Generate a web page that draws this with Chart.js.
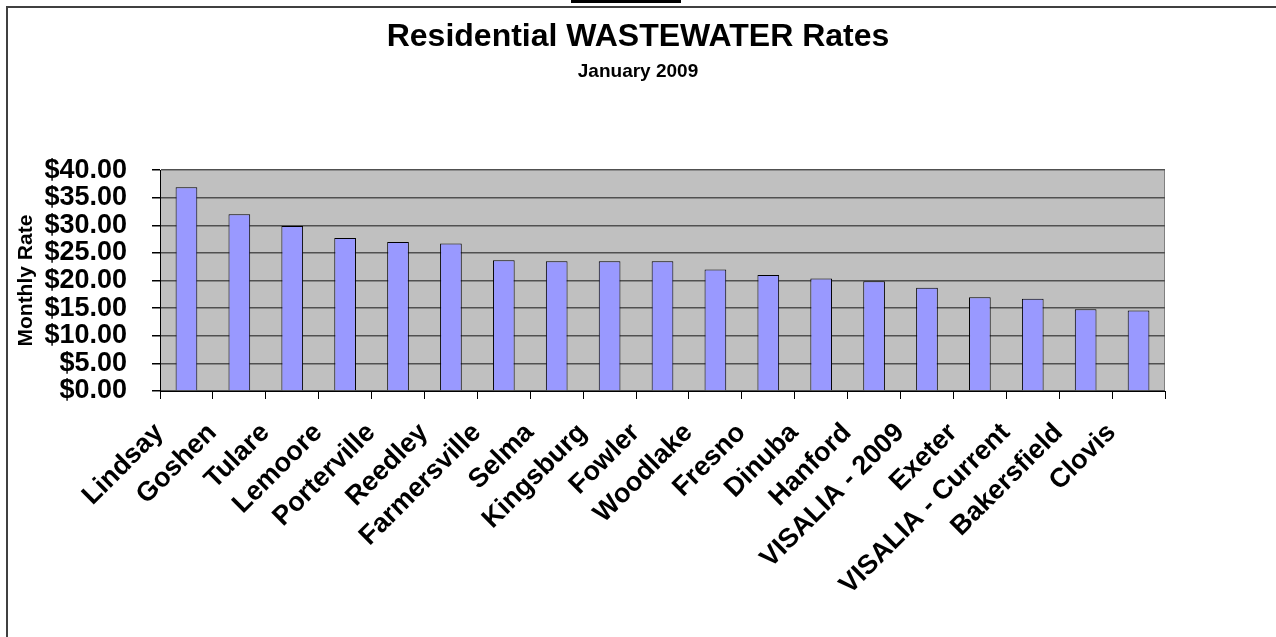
<!DOCTYPE html>
<html lang="en">
<head>
    <meta charset="UTF-8">
    <title>Residential WASTEWATER Rates</title>
    <script src="https://cdn.jsdelivr.net/npm/chart.js"></script>
    <style>
        html, body { margin: 0; padding: 0; background: #fff; }
        /* whole picture area */
        .wrap {
            position: relative;
            width: 1276px;
            height: 637px;
            overflow: hidden;
        }
        /* dark frame at left and top */
        .frame {
            position: absolute;
            left: 6px;
            top: 6px;
            right: 0;
            bottom: 0;
            border-left: 2px solid #404040;
            border-top: 2px solid #404040;
        }
        /* small black tab at top */
        .tab {
            position: absolute;
            left: 571px;
            top: 0;
            width: 110px;
            height: 3px;
            background: #000;
        }
        #rateChart { position: absolute; left: 0; top: 0; }
    </style>
</head>
<body>
    <div class="wrap">
        <div class="frame"></div>
        <div class="tab"></div>
        <canvas id="rateChart" width="1276" height="637"></canvas>
    </div>

    <script>
        // Chart data
        var cities = ["Lindsay", "Goshen", "Tulare", "Lemoore", "Porterville", "Reedley",
            "Farmersville", "Selma", "Kingsburg", "Fowler", "Woodlake", "Fresno", "Dinuba",
            "Hanford", "VISALIA - 2009", "Exeter", "VISALIA - Current", "Bakersfield", "Clovis"];
        var monthlyRates = [36.9, 32.0, 29.9, 27.7, 27.0, 26.7, 23.7, 23.5, 23.5, 23.5,
            22.0, 21.0, 20.4, 19.9, 18.7, 17.0, 16.7, 14.8, 14.6];
        var chartTitle = "Residential WASTEWATER Rates";
        var chartSubtitle = "January 2009";
        var axisTitle = "Monthly Rate";

        var fontFamily = "'Liberation Sans', Arial, sans-serif";

        // grey plot background and right border
        var plotBackground = {
            id: 'plotBackground',
            beforeDraw: function(chart) {
                var a = chart.chartArea;
                var ctx = chart.ctx;
                ctx.save();
                ctx.fillStyle = '#c0c0c0';
                ctx.fillRect(a.left, a.top, a.right - a.left, a.bottom - a.top);
                ctx.strokeStyle = '#808080';
                ctx.lineWidth = 1;
                ctx.beginPath();
                ctx.moveTo(a.right - 0.5, a.top);
                ctx.lineTo(a.right - 0.5, a.bottom);
                ctx.stroke();
                ctx.restore();
            }
        };

        var ctx = document.getElementById('rateChart').getContext('2d');
        var chart = new Chart(ctx, {
            type: 'bar',
            data: {
                labels: cities,
                datasets: [{
                    label: axisTitle,
                    data: monthlyRates,
                    backgroundColor: '#9999ff',
                    borderColor: '#000',
                    borderWidth: 1,
                    barPercentage: 0.41,
                    categoryPercentage: 1.0
                }]
            },
            options: {
                responsive: false,
                animation: false,
                layout: { padding: 0 },
                plugins: {
                    legend: { display: false },
                    tooltip: { enabled: false },
                    title: {
                        display: true,
                        text: chartTitle,
                        color: '#000',
                        font: { family: fontFamily, size: 32, weight: 'bold' },
                        padding: { top: 18, bottom: 0 }
                    },
                    subtitle: {
                        display: true,
                        text: chartSubtitle,
                        color: '#000',
                        font: { family: fontFamily, size: 19, weight: 'bold' },
                        padding: { top: 4, bottom: 87 }
                    }
                },
                scales: {
                    x: {
                        grid: {
                            offset: true,
                            drawOnChartArea: false,
                            drawTicks: true,
                            tickLength: 8,
                            tickColor: '#000'
                        },
                        border: { color: '#000', width: 1 },
                        ticks: {
                            autoSkip: false,
                            minRotation: 45,
                            maxRotation: 45,
                            padding: 18,
                            labelOffset: -27,
                            color: '#000',
                            font: { family: fontFamily, size: 27, weight: 'bold' }
                        },
                        afterFit: function(scale) { scale.height = 246; }
                    },
                    y: {
                        min: 0,
                        max: 40,
                        ticks: {
                            stepSize: 5,
                            autoSkip: false,
                            padding: 25,
                            color: '#000',
                            font: { family: fontFamily, size: 27, weight: 'bold' },
                            callback: function(v) { return '$' + v.toFixed(2); }
                        },
                        grid: {
                            color: '#505050',
                            lineWidth: 1.5,
                            tickLength: 8,
                            tickColor: '#000'
                        },
                        border: { color: '#000', width: 1 },
                        title: {
                            display: true,
                            text: axisTitle,
                            color: '#000',
                            font: { family: fontFamily, size: 21, weight: 'bold' },
                            padding: { top: 14, bottom: 0 }
                        },
                        afterFit: function(scale) { scale.width = 160; }
                    },
                    // empty right axis, only keeps the blank space right of the plot
                    yRight: {
                        position: 'right',
                        display: true,
                        grid: { drawOnChartArea: false, drawTicks: false },
                        border: { display: false },
                        ticks: { display: false },
                        afterFit: function(scale) { scale.width = 111; }
                    }
                }
            },
            plugins: [plotBackground]
        });
    </script>
</body>
</html>
